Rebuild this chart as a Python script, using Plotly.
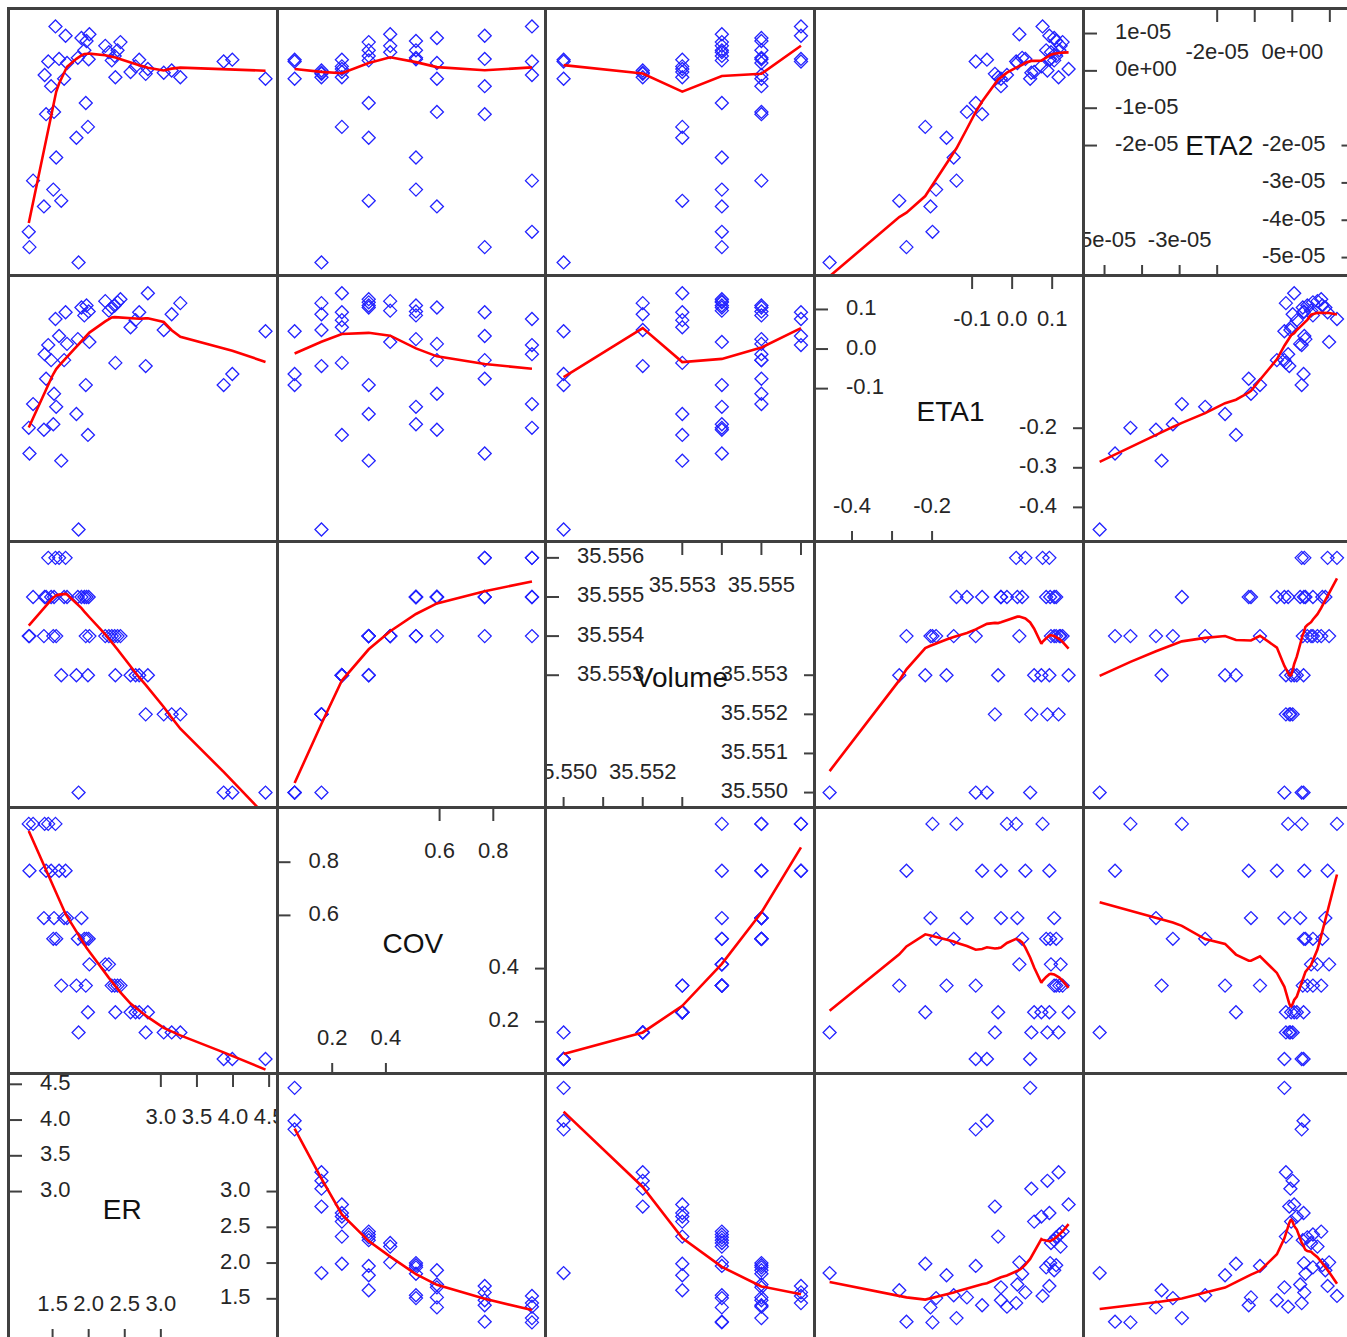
import numpy as np
import plotly.graph_objects as go

# ---------------- data ----------------
ER = [4.45, 3.99, 3.87, 1.86, 3.27, 3.15, 3.04, 2.79, 2.82, 2.70, 2.65, 2.58, 2.37, 1.99, 1.83,
      1.62, 2.44, 2.40, 2.36, 2.32, 1.96, 2.23, 2.01, 2.28, 1.55, 1.51, 2.00, 1.97, 1.94, 1.85,
      1.90, 1.70, 1.66, 1.52, 1.38, 1.48, 1.41, 1.18, 1.68, 1.59, 1.39, 1.23, 1.17, 1.54, 1.44]
COV = [0.06, 0.06, 0.06, 0.16, 0.16, 0.16, 0.16, 0.16, 0.236, 0.236, 0.236, 0.236, 0.236, 0.236, 0.336,
       0.336, 0.336, 0.336, 0.336, 0.336, 0.336, 0.416, 0.416, 0.416, 0.512, 0.512, 0.512, 0.512, 0.512, 0.512,
       0.59, 0.59, 0.59, 0.59, 0.59, 0.768, 0.768, 0.768, 0.768, 0.768, 0.944, 0.944, 0.944, 0.944, 0.944]
Volume = [35.550, 35.550, 35.550, 35.550, 35.552, 35.552, 35.552, 35.552, 35.553, 35.553, 35.553, 35.553,
          35.553, 35.553, 35.553, 35.553, 35.554, 35.554, 35.554, 35.554, 35.554, 35.554, 35.554, 35.554,
          35.554, 35.554, 35.555, 35.555, 35.555, 35.555, 35.555, 35.555, 35.555, 35.555, 35.554, 35.555,
          35.555, 35.554, 35.556, 35.556, 35.555, 35.555, 35.554, 35.556, 35.556]
ETA1 = [0.045, -0.063, -0.091, -0.456, 0.116, 0.088, 0.048, -0.043, 0.141, 0.093, 0.073, 0.055, -0.035,
        -0.217, -0.164, -0.282, 0.126, 0.118, 0.110, 0.105, -0.091, 0.121, 0.018, 0.097, -0.146, -0.190,
        0.095, 0.110, 0.085, 0.025, 0.105, 0.013, -0.028, -0.113, -0.204, -0.028, -0.075, -0.264, 0.093,
        0.033, -0.013, -0.139, -0.199, 0.076, 0.010]
ETA2 = [-0.21e-5, 0.30e-5, 0.25e-5, -5.13e-5, -0.17e-5, 0.01e-5, -0.05e-5, -0.08e-5, 0.05e-5, 0.30e-5,
        0.12e-5, -0.03e-5, -0.17e-5, -1.50e-5, -1.79e-5, -3.48e-5, 0.77e-5, 0.55e-5, 0.40e-5, 0.28e-5,
        -0.86e-5, 0.67e-5, 0.98e-5, 0.50e-5, -2.32e-5, -3.18e-5, 0.31e-5, 0.80e-5, 0.55e-5, 0.35e-5,
        0.88e-5, 0.21e-5, -0.21e-5, -1.10e-5, -3.63e-5, -0.41e-5, -1.16e-5, -4.72e-5, 0.94e-5, 0.32e-5,
        -0.11e-5, -2.94e-5, -4.31e-5, 1.19e-5, 0.25e-5]

COL_VARS = ["ER", "COV", "Volume", "ETA1", "ETA2"]
ROW_VARS = ["ETA2", "ETA1", "Volume", "COV", "ER"]

# axis ranges of each variable (full panel)
RANGES = {"ER": (0.91, 4.63), "COV": (0.0, 1.0), "Volume": (35.54958, 35.55638),
          "ETA1": (-0.49, 0.182), "ETA2": (-5.52e-5, 1.63e-5)}

# tick values / labels drawn inside the diagonal panels
TICKS = {
    "ETA2": dict(left=[1e-5, 0, -1e-5, -2e-5], left_lab=["1e-05", "0e+00", "-1e-05", "-2e-05"],
                 right=[-2e-5, -3e-5, -4e-5, -5e-5], right_lab=["-2e-05", "-3e-05", "-4e-05", "-5e-05"],
                 top=[-2e-5, -1e-5, 0, 1e-5], top_lab=["-2e-05", "", "0e+00", ""],
                 bottom=[-5e-5, -4e-5, -3e-5, -2e-5], bottom_lab=["-5e-05", "", "-3e-05", ""]),
    "ETA1": dict(left=[0.1, 0.0, -0.1], left_lab=["0.1", "0.0", "-0.1"],
                 right=[-0.2, -0.3, -0.4], right_lab=["-0.2", "-0.3", "-0.4"],
                 top=[-0.1, 0.0, 0.1], top_lab=["-0.1", "0.0", "0.1"],
                 bottom=[-0.4, -0.3, -0.2], bottom_lab=["-0.4", "", "-0.2"]),
    "Volume": dict(left=[35.556, 35.555, 35.554, 35.553], left_lab=["35.556", "35.555", "35.554", "35.553"],
                   right=[35.553, 35.552, 35.551, 35.550], right_lab=["35.553", "35.552", "35.551", "35.550"],
                   top=[35.553, 35.554, 35.555, 35.556], top_lab=["35.553", "", "35.555", ""],
                   bottom=[35.550, 35.551, 35.552, 35.553], bottom_lab=["35.550", "", "35.552", ""]),
    "COV": dict(left=[0.8, 0.6], left_lab=["0.8", "0.6"],
                right=[0.4, 0.2], right_lab=["0.4", "0.2"],
                top=[0.6, 0.8], top_lab=["0.6", "0.8"],
                bottom=[0.2, 0.4], bottom_lab=["0.2", "0.4"]),
    "ER": dict(left=[4.5, 4.0, 3.5, 3.0], left_lab=["4.5", "4.0", "3.5", "3.0"],
               right=[3.0, 2.5, 2.0, 1.5], right_lab=["3.0", "2.5", "2.0", "1.5"],
               top=[3.0, 3.5, 4.0, 4.5], top_lab=["3.0", "3.5", "4.0", "4.5"],
               bottom=[1.5, 2.0, 2.5, 3.0], bottom_lab=["1.5", "2.0", "2.5", "3.0"]),
}
LABEL_DX = {"ER": -22}

DATA = {"ER": ER, "COV": COV, "Volume": Volume, "ETA1": ETA1, "ETA2": ETA2}

# ---------------- layout geometry ----------------
W, H = 1347, 1337
COL_EDGES = [10, 278.5, 547, 816, 1085, 1353.5]
ROW_EDGES = [10, 277, 543, 809, 1075, 1341]
TICK = 12
FONT = "Liberation Sans, Arial, sans-serif"
TICK_FONT = dict(family=FONT, size=22, color="#262626")
LAB_FONT = dict(family=FONT, size=28, color="#111111")
LINE_COL = "#404040"


def loess(x, y, span=0.5, degree=1, iterations=4):
    """Robust local regression (family 'symmetric'), evaluated at the sorted unique x."""
    x = np.asarray(x, float)
    y = np.asarray(y, float)
    z = (x - x.mean()) / x.std()
    n = len(z)
    q = max(int(np.floor(n * span)), degree + 1)
    zs = np.unique(z)

    def fit_at(z0, rw):
        d = np.abs(z - z0)
        h = np.sort(d)[q - 1]
        if h <= 0:
            h = 1e-9
        h *= 1.0001
        u = d / h
        w = np.where(u < 1, (1 - u ** 3) ** 3, 0.0) * rw
        if w.sum() <= 0:
            return np.nan
        cols = [np.ones(n)] + [(z - z0) ** k for k in range(1, degree + 1)]
        X = np.column_stack(cols)
        sw = np.sqrt(w)
        beta = np.linalg.lstsq(X * sw[:, None], y * sw, rcond=None)[0]
        return beta[0]

    rw = np.ones(n)
    for it in range(iterations - 1):
        fitted = np.array([fit_at(zi, rw) for zi in z])
        r = y - fitted
        s = np.median(np.abs(r))
        if s <= 0:
            break
        u = r / (6 * s)
        rw = np.where(np.abs(u) < 1, (1 - u ** 2) ** 2, 0.0)
    ys = np.array([fit_at(z0, rw) for z0 in zs])
    return zs * x.std() + x.mean(), ys


fig = go.Figure()
layout = dict(width=W, height=H, margin=dict(l=0, r=0, t=0, b=0),
              paper_bgcolor="white", plot_bgcolor="white", showlegend=False)
shapes = []

for r in range(5):
    for c in range(5):
        idx = r * 5 + 1 + c
        xs_name = "x" if idx == 1 else f"x{idx}"
        ys_name = "y" if idx == 1 else f"y{idx}"
        xv, yv = COL_VARS[c], ROW_VARS[r]
        a, b = COL_EDGES[c], COL_EDGES[c + 1]
        t, bt = ROW_EDGES[r], ROW_EDGES[r + 1]
        xlo, xhi = RANGES[xv]
        ylo, yhi = RANGES[yv]
        b_eff = min(b, W)
        bt_eff = min(bt, H)
        xhi_eff = xlo + (xhi - xlo) * (b_eff - a) / (b - a)
        ylo_eff = yhi - (yhi - ylo) * (bt_eff - t) / (bt - t)
        common = dict(showgrid=False, zeroline=False, showticklabels=False, ticks="",
                      showline=True, linecolor=LINE_COL, linewidth=2.6, mirror=False)
        layout["xaxis" if idx == 1 else f"xaxis{idx}"] = dict(
            domain=[a / W, b_eff / W], range=[xlo, xhi_eff], anchor=ys_name, side="top", **common)
        layout["yaxis" if idx == 1 else f"yaxis{idx}"] = dict(
            domain=[1 - bt_eff / H, 1 - t / H], range=[ylo_eff, yhi], anchor=xs_name, side="left", **common)

        xr, yr = xs_name, ys_name
        if r + c == 4:
            v = xv
            tk = TICKS[v]
            pw, ph = b - a, bt - t
            # tick marks
            for val in tk["left"]:
                shapes.append(dict(type="line", xref="paper", yref=yr, x0=a / W, x1=(a + TICK) / W,
                                   y0=val, y1=val, line=dict(color=LINE_COL, width=2)))
            for val in tk["right"]:
                shapes.append(dict(type="line", xref="paper", yref=yr, x0=(b - TICK) / W, x1=b / W,
                                   y0=val, y1=val, line=dict(color=LINE_COL, width=2)))
            for val in tk["top"]:
                shapes.append(dict(type="line", xref=xr, yref="paper", x0=val, x1=val,
                                   y0=1 - t / H, y1=1 - (t + TICK) / H, line=dict(color=LINE_COL, width=2)))
            for val in tk["bottom"]:
                shapes.append(dict(type="line", xref=xr, yref="paper", x0=val, x1=val,
                                   y0=1 - bt / H, y1=1 - (bt - TICK) / H, line=dict(color=LINE_COL, width=2)))
            # tick labels (text traces so they are clipped by the panel)
            x_left = xlo + (xhi - xlo) * 30 / pw
            x_right = xlo + (xhi - xlo) * (pw - 28) / pw
            y_top = yhi - (yhi - ylo) * 43 / ph
            y_bot = ylo + (yhi - ylo) * 36 / ph
            fig.add_trace(go.Scatter(x=[x_left] * len(tk["left"]), y=tk["left"], text=tk["left_lab"],
                                     mode="text", textposition="middle right", textfont=TICK_FONT,
                                     xaxis=xr, yaxis=yr, hoverinfo="skip"))
            fig.add_trace(go.Scatter(x=[x_right] * len(tk["right"]), y=tk["right"], text=tk["right_lab"],
                                     mode="text", textposition="middle left", textfont=TICK_FONT,
                                     xaxis=xr, yaxis=yr, hoverinfo="skip"))
            fig.add_trace(go.Scatter(x=tk["top"], y=[y_top] * len(tk["top"]), text=tk["top_lab"],
                                     mode="text", textposition="middle center", textfont=TICK_FONT,
                                     xaxis=xr, yaxis=yr, hoverinfo="skip"))
            fig.add_trace(go.Scatter(x=tk["bottom"], y=[y_bot] * len(tk["bottom"]), text=tk["bottom_lab"],
                                     mode="text", textposition="middle center", textfont=TICK_FONT,
                                     xaxis=xr, yaxis=yr, hoverinfo="skip"))
            xc = xlo + (xhi - xlo) * (0.5 + LABEL_DX.get(v, 0) / pw)
            yc = yhi - (yhi - ylo) * (0.5 + 4 / ph)
            fig.add_trace(go.Scatter(x=[xc], y=[yc], text=[v], mode="text", textposition="middle center",
                                     textfont=LAB_FONT, xaxis=xr, yaxis=yr, hoverinfo="skip"))
        else:
            xd, yd = DATA[xv], DATA[yv]
            fig.add_trace(go.Scatter(x=xd, y=yd, mode="markers", xaxis=xr, yaxis=yr,
                                     marker=dict(symbol="diamond-open", size=10, color="rgb(35,35,255)",
                                                 line=dict(width=1.3, color="rgb(35,35,255)"))))
            lx, ly = loess(xd, yd)
            fig.add_trace(go.Scatter(x=lx, y=ly, mode="lines", xaxis=xr, yaxis=yr,
                                     line=dict(color="red", width=2.6), hoverinfo="skip"))

layout["shapes"] = shapes
fig.update_layout(**layout)
fig.write_html("out.html")
